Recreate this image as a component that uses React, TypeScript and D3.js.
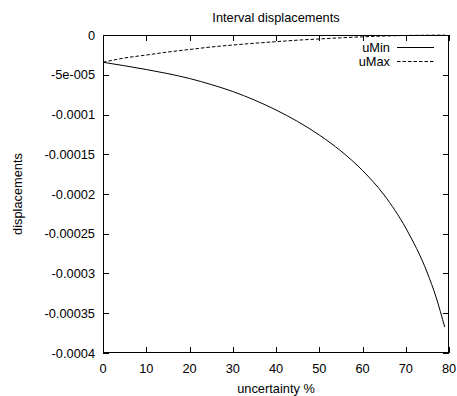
import React, { useRef, useEffect } from "react";
import * as d3 from "d3";

// uncertainty % sampled along the x axis
const uncertainty = [0, 5, 10, 15, 20, 25, 30, 35, 40, 45, 50, 55, 60, 65, 70, 75, 77, 79];
// in units of 1e-5
const uMin = [-3.43, -3.87, -4.34, -4.86, -5.47, -6.23, -7.11, -8.18, -9.43, -10.88, -12.58, -14.59, -17.04, -20.13, -24.28, -29.94, -32.96, -36.73];
const uMax = [-3.43, -2.89, -2.52, -2.14, -1.82, -1.51, -1.26, -1.04, -0.84, -0.65, -0.5, -0.35, -0.23, -0.13, -0.06, -0.03, -0.02, -0.01];

const xTicks = [0, 10, 20, 30, 40, 50, 60, 70, 80];
const yTicks = [0, -0.00005, -0.0001, -0.00015, -0.0002, -0.00025, -0.0003, -0.00035, -0.0004];
const yTickLabels = ["0", "-5e-005", "-0.0001", "-0.00015", "-0.0002", "-0.00025", "-0.0003", "-0.00035", "-0.0004"];

const App = () => {
    const ref = useRef<SVGSVGElement>(null);

    useEffect(() => {
        const svgWidth = 457;
        const svgHeight = 396;
        const margin = { top: 35, right: 8, bottom: 43, left: 103 };
        const font = "'Liberation Sans', Arial, sans-serif";
        const fontSize = "12.8px";

        const svg = d3.select(ref.current)
            .attr("width", svgWidth)
            .attr("height", svgHeight);
        svg.selectAll("*").remove();

        const x = d3.scaleLinear()
            .domain([0, 80])
            .range([margin.left, svgWidth - margin.right]);
        const y = d3.scaleLinear()
            .domain([-0.0004, 0])
            .range([svgHeight - margin.bottom, margin.top]);

        const x0 = x.range()[0], x1 = x.range()[1];
        const y0 = y.range()[0], y1 = y.range()[1];
        const tick = 6;

        // ticks, mirrored on all four sides, pointing inwards
        const ticks = svg.append("g").attr("stroke", "black").attr("stroke-width", 1);
        xTicks.forEach(t => {
            const px = Math.round(x(t)) + 0.5;
            ticks.append("line").attr("x1", px).attr("x2", px).attr("y1", y0).attr("y2", y0 - tick);
            ticks.append("line").attr("x1", px).attr("x2", px).attr("y1", y1).attr("y2", y1 + tick);
        });
        yTicks.forEach(t => {
            const py = Math.round(y(t)) + 0.5;
            ticks.append("line").attr("x1", x0).attr("x2", x0 + tick).attr("y1", py).attr("y2", py);
            ticks.append("line").attr("x1", x1).attr("x2", x1 - tick).attr("y1", py).attr("y2", py);
        });

        // tick labels
        svg.append("g")
            .selectAll("text")
            .data(xTicks)
            .enter()
            .append("text")
            .attr("x", d => x(d))
            .attr("y", y0 + 20)
            .attr("text-anchor", "middle")
            .style("font-family", font)
            .style("font-size", fontSize)
            .text(d => d);

        svg.append("g")
            .selectAll("text")
            .data(yTicks)
            .enter()
            .append("text")
            .attr("x", x0 - 8)
            .attr("y", d => y(d) + 4.5)
            .attr("text-anchor", "end")
            .style("font-family", font)
            .style("font-size", fontSize)
            .text((d, i) => yTickLabels[i]);

        // titles
        svg.append("text")
            .attr("x", (x0 + x1) / 2)
            .attr("y", 22)
            .attr("text-anchor", "middle")
            .style("font-family", font)
            .style("font-size", fontSize)
            .text("Interval displacements");

        svg.append("text")
            .attr("x", (x0 + x1) / 2)
            .attr("y", 393)
            .attr("text-anchor", "middle")
            .style("font-family", font)
            .style("font-size", fontSize)
            .text("uncertainty %");

        svg.append("text")
            .attr("transform", `translate(22,${(y0 + y1) / 2}) rotate(-90)`)
            .attr("text-anchor", "middle")
            .style("font-family", font)
            .style("font-size", fontSize)
            .text("displacements");

        // curves
        const line = d3.line<number>()
            .x((d, i) => x(uncertainty[i]))
            .y(d => y(d * 1e-5))
            .curve(d3.curveMonotoneX);

        const plot = svg.append("g");
        plot.append("path")
            .datum(uMin)
            .attr("d", line)
            .attr("fill", "none")
            .attr("stroke", "black")
            .attr("stroke-width", 1);
        plot.append("path")
            .datum(uMax)
            .attr("d", line)
            .attr("fill", "none")
            .attr("stroke", "black")
            .attr("stroke-width", 1)
            .attr("stroke-dasharray", "3.5 2");

        // legend
        const legend = [
            { name: "uMin", dash: null },
            { name: "uMax", dash: "3.5 2" },
        ];
        legend.forEach((l, i) => {
            const ly = 47 + i * 14;
            svg.append("text")
                .attr("x", 390)
                .attr("y", ly + 4.5)
                .attr("text-anchor", "end")
                .style("font-family", font)
                .style("font-size", fontSize)
                .text(l.name);
            svg.append("line")
                .attr("x1", 397)
                .attr("x2", 434)
                .attr("y1", ly + 0.5)
                .attr("y2", ly + 0.5)
                .attr("stroke", "black")
                .attr("stroke-width", 1)
                .attr("stroke-dasharray", l.dash);
        });

        // border
        svg.append("rect")
            .attr("x", x0 + 0.5)
            .attr("y", y1 + 0.5)
            .attr("width", x1 - x0 - 1)
            .attr("height", y0 - y1 - 1)
            .attr("fill", "none")
            .attr("stroke", "black")
            .attr("stroke-width", 1);
    }, []);

    return (
        <div style={{ position: "absolute", left: 0, top: 0, background: "white" }}>
            <svg ref={ref} style={{ display: "block" }}></svg>
        </div>
    );
};

export default App;
